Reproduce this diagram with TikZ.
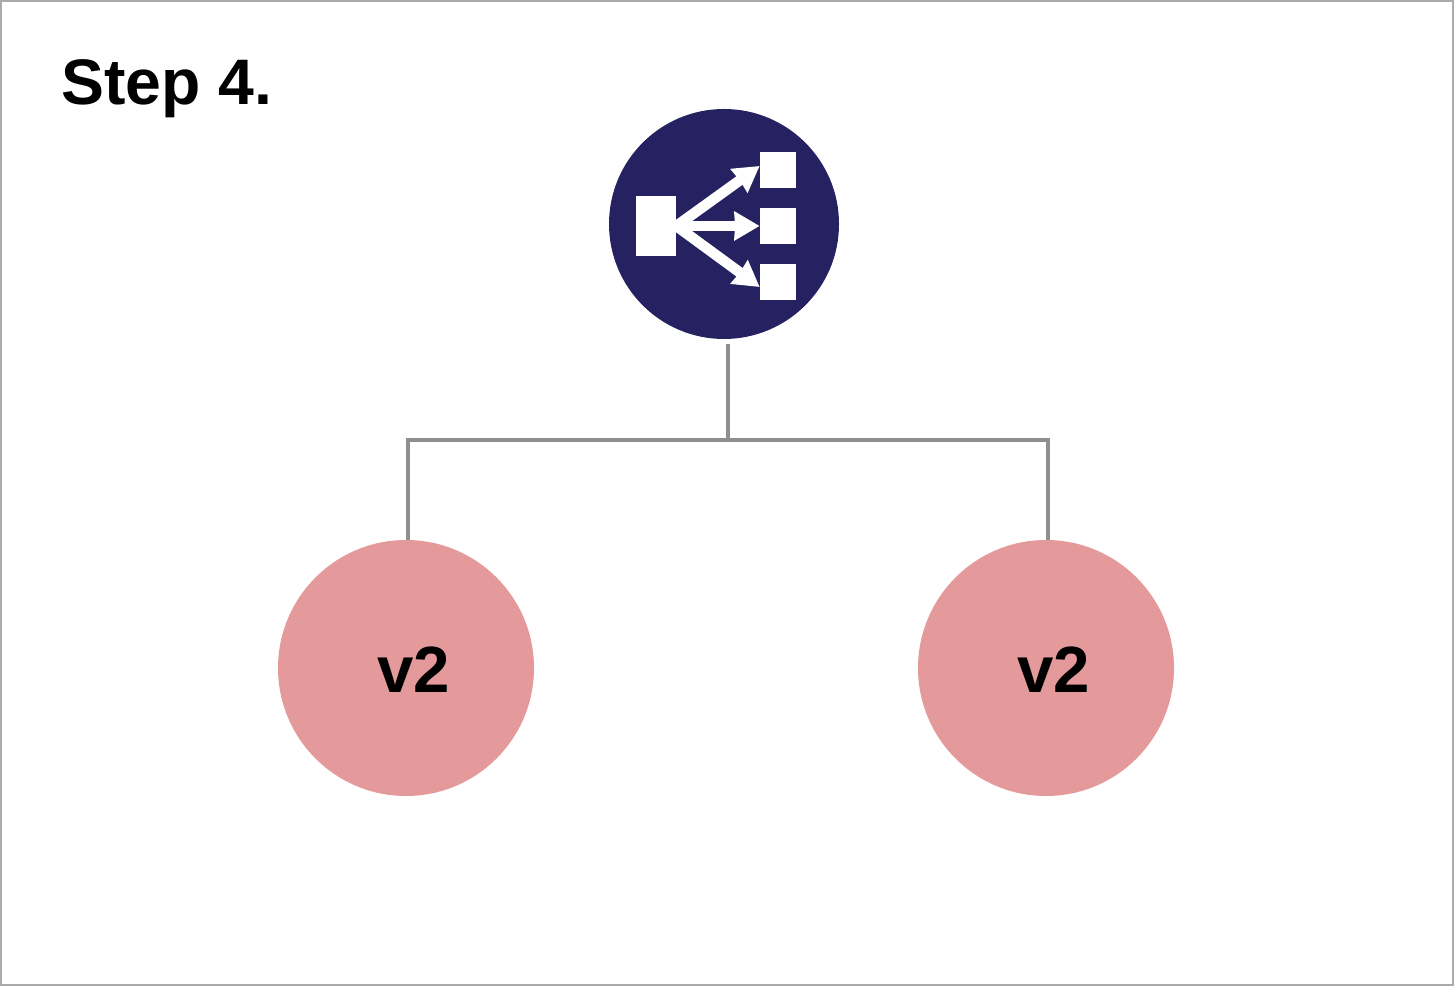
\documentclass[tikz,border=0pt]{standalone}
\usepackage{fontspec}
\setmainfont{Liberation Sans}
\usetikzlibrary{arrows.meta}
\definecolor{hubblue}{HTML}{262261}
\definecolor{replicapink}{HTML}{E49A9A}
\definecolor{linkgray}{HTML}{8F8F8F}
\definecolor{framegray}{HTML}{ABABAB}
\begin{document}
\begin{tikzpicture}
    % Stili
    \tikzstyle{hub}=[circle, fill=hubblue, minimum size=4.6cm, inner sep=0pt]
    \tikzstyle{replica}=[circle, fill=replicapink, minimum size=5.12cm, inner sep=0pt]
    \tikzstyle{iconbox}=[fill=white, minimum width=0.72cm, minimum height=0.72cm, inner sep=0pt]
    \tikzstyle{iconsource}=[fill=white, minimum width=0.8cm, minimum height=1.2cm, inner sep=0pt]
    \tikzstyle{iconarrow}=[-{Stealth[length=0.5cm, width=0.56cm, inset=0.01cm]}, line width=0.21cm, white]
    \tikzstyle{link}=[line width=0.08cm, linkgray]
    \tikzstyle{version}=[font=\fontsize{37.2}{40}\selectfont\bfseries, inner sep=0pt]

    \useasboundingbox (0,0) rectangle (29.08,19.72);

    % Cornice
    \draw[line width=0.04cm, framegray] (0.02,0.02) rectangle (29.06,19.70);

    % Titolo
    \node[anchor=base west, inner sep=0pt, font=\fontsize{36.6}{40}\selectfont\bfseries] (title) at (1.22,17.62) {Step 4.};

    % Bilanciatore
    \node[hub] (hub) at (14.48,15.24) {};
    \node[iconsource] (src) at (13.12,15.2) {};
    \node[iconbox] (dst_top) at (15.56,16.32) {};
    \node[iconbox] (dst_mid) at (15.56,15.2) {};
    \node[iconbox] (dst_low) at (15.56,14.08) {};

    % Frecce dell'icona
    \draw[iconarrow] (src.east) -- ([yshift=0.08cm]dst_top.west);
    \draw[iconarrow] (src.east) -- (dst_mid.west);
    \draw[iconarrow] (src.east) -- ([yshift=-0.1cm]dst_low.west);

    % Repliche
    \node[replica] (replica_left) at (8.12,6.36) {};
    \node[replica] (replica_right) at (20.92,6.36) {};
    \node[version] (version_left) at (8.27,6.32) {v2};
    \node[version] (version_right) at (21.07,6.32) {v2};

    % Collegamenti
    \coordinate (hub_foot) at (14.56,12.84);
    \coordinate (junction) at (14.56,10.92);
    \coordinate (drop_left) at (8.16,8.92);
    \coordinate (drop_right) at (20.96,8.92);
    \draw[link] (hub_foot) -- (junction);
    \draw[link] (junction) -| (drop_left);
    \draw[link] (junction) -| (drop_right);
\end{tikzpicture}
\end{document}
